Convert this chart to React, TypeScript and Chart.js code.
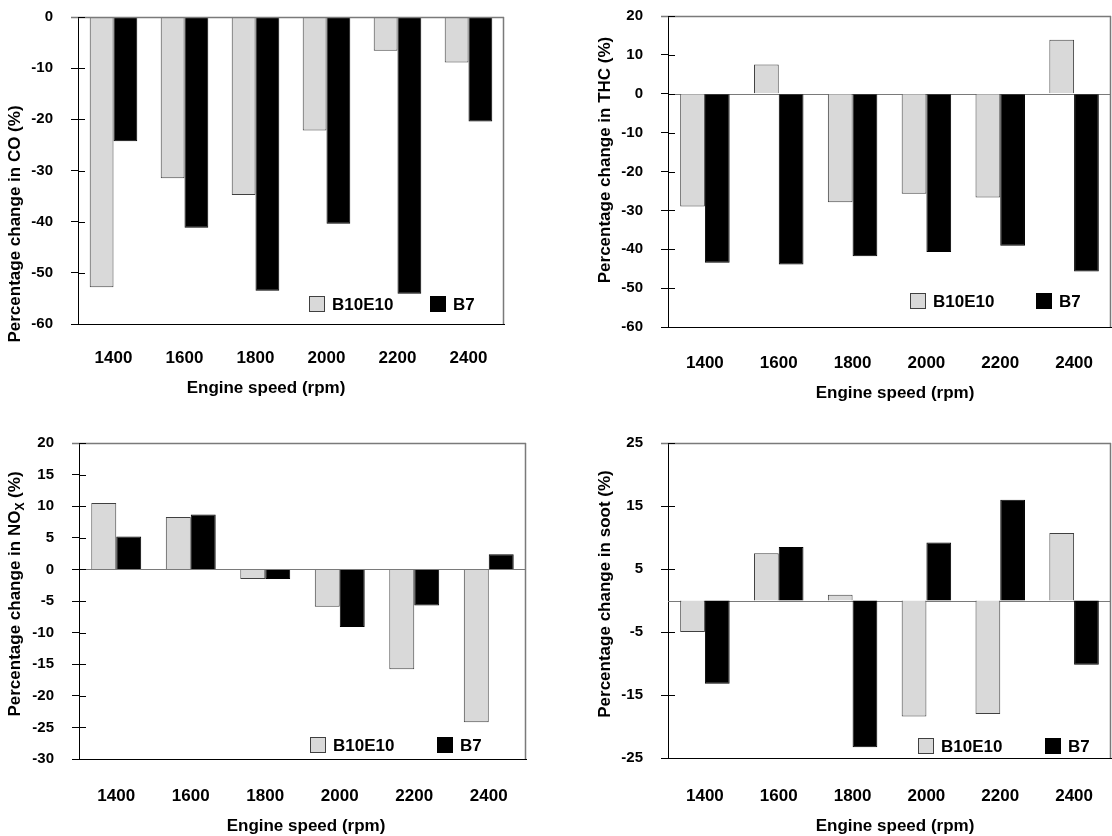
import React, { useEffect, useRef } from "react";
import { Chart, registerables } from "chart.js";
Chart.register(...registerables);

// ---------- data ----------
const categories = ["1400", "1600", "1800", "2000", "2200", "2400"];
const seriesNames = ["B10E10", "B7"];

const coB10E10 = [-52.8, -31.5, -34.8, -22.2, -6.6, -8.9];
const coB7 = [-24.3, -41.2, -53.5, -40.4, -54.1, -20.4];
const coTicks = [0, -10, -20, -30, -40, -50, -60];

const thcB10E10 = [-29.0, 7.5, -27.9, -25.7, -26.7, 13.9];
const thcB7 = [-43.5, -43.9, -41.8, -40.7, -39.1, -45.7];
const thcTicks = [20, 10, 0, -10, -20, -30, -40, -50, -60];

const noxB10E10 = [10.5, 8.3, -1.5, -5.9, -15.8, -24.2];
const noxB7 = [5.2, 8.7, -1.5, -9.1, -5.7, 2.4];
const noxTicks = [20, 15, 10, 5, 0, -5, -10, -15, -20, -25, -30];

const sootB10E10 = [-5.0, 7.5, 0.9, -18.4, -18.0, 10.7];
const sootB7 = [-13.2, 8.5, -23.3, 9.2, 16.0, -10.2];
const sootTicks = [25, 15, 5, -5, -15, -25];

const xTitle = "Engine speed (rpm)";

// ---------- style ----------
const W = 1112;
const H = 836;
const FONT = '"Liberation Sans", Arial, Helvetica, sans-serif';
const LIGHT = "#D9D9D9";
const LIGHT_EDGE = "#404040";
const FRAME = "#7a7a7a";
const Y_AXIS_W = 70;
const X_AXIS_H = 60;

type TitlePart = { text: string; sub?: boolean };
type PanelCfg = {
  b10: number[];
  b7: number[];
  ticks: number[];
  yTitle: TitlePart[];
  plot: { left: number; top: number; right: number; bottom: number };
  yTitlePos: { x: number; y: number };
  xTitlePos: { x: number; y: number };
  xTickPad: number;
  legend: { x1: number; x2: number; dy: number };
};

const panels: PanelCfg[] = [
  {
    b10: coB10E10, b7: coB7, ticks: coTicks,
    yTitle: [{ text: "Percentage change in CO (%)" }],
    plot: { left: 78, top: 17, right: 504, bottom: 324 },
    yTitlePos: { x: 15.5, y: 224 }, xTitlePos: { x: 266, y: 388 },
    xTickPad: 24, legend: { x1: 195, x2: 74, dy: 20 },
  },
  {
    b10: thcB10E10, b7: thcB7, ticks: thcTicks,
    yTitle: [{ text: "Percentage change in THC (%)" }],
    plot: { left: 668, top: 16, right: 1111, bottom: 327 },
    yTitlePos: { x: 605, y: 160 }, xTitlePos: { x: 895, y: 393 },
    xTickPad: 26, legend: { x1: 201, x2: 75, dy: 26 },
  },
  {
    b10: noxB10E10, b7: noxB7, ticks: noxTicks,
    yTitle: [{ text: "Percentage change in NO" }, { text: "X", sub: true }, { text: " (%)" }],
    plot: { left: 79, top: 443, right: 526, bottom: 759 },
    yTitlePos: { x: 15.5, y: 594 }, xTitlePos: { x: 306, y: 826 },
    xTickPad: 27, legend: { x1: 216, x2: 89, dy: 14 },
  },
  {
    b10: sootB10E10, b7: sootB7, ticks: sootTicks,
    yTitle: [{ text: "Percentage change in soot (%)" }],
    plot: { left: 668, top: 443, right: 1111, bottom: 758 },
    yTitlePos: { x: 605, y: 594 }, xTitlePos: { x: 895, y: 826 },
    xTickPad: 28, legend: { x1: 193, x2: 66, dy: 12 },
  },
];

function makeDecor(cfg: PanelCfg) {
  return {
    id: "panelDecor",
    beforeDatasetsDraw(chart: any) {
      const { ctx, chartArea: a, scales } = chart;
      const y = scales.y;
      if (0 > y.min && 0 < y.max) {
        const p = Math.round(y.getPixelForValue(0)) + 0.5;
        ctx.save();
        ctx.strokeStyle = FRAME;
        ctx.lineWidth = 1;
        ctx.beginPath();
        ctx.moveTo(a.left, p);
        ctx.lineTo(a.right, p);
        ctx.stroke();
        ctx.restore();
      }
    },
    afterDraw(chart: any) {
      const { ctx, chartArea: a, scales } = chart;
      const y = scales.y;
      ctx.save();
      // frame top & right
      ctx.strokeStyle = FRAME;
      ctx.lineWidth = 1.5;
      ctx.beginPath();
      ctx.moveTo(a.left - 7, a.top + 0.5);
      ctx.lineTo(a.right, a.top + 0.5);
      ctx.moveTo(a.right - 0.5, a.top);
      ctx.lineTo(a.right - 0.5, a.bottom);
      ctx.stroke();
      // inner tick marks
      ctx.strokeStyle = "#000";
      ctx.lineWidth = 1;
      ctx.beginPath();
      y.ticks.forEach((t: any) => {
        const p = Math.round(y.getPixelForValue(t.value)) + 0.5;
        ctx.moveTo(a.left, p);
        ctx.lineTo(a.left + 7, p);
      });
      ctx.stroke();

      // legend
      const cy = a.bottom - cfg.legend.dy;
      const ds = chart.data.datasets;
      const xs = [a.right - cfg.legend.x1, a.right - cfg.legend.x2];
      ds.forEach((d: any, i: number) => {
        const x = xs[i];
        ctx.fillStyle = d.backgroundColor;
        ctx.fillRect(x, cy - 8, 16, 16);
        ctx.strokeStyle = d.borderColor;
        ctx.lineWidth = 1;
        ctx.strokeRect(x + 0.5, cy - 7.5, 15, 15);
        ctx.fillStyle = "#000";
        ctx.font = `bold 17px ${FONT}`;
        ctx.textAlign = "left";
        ctx.textBaseline = "middle";
        ctx.fillText(d.label, x + 23, cy + 1);
      });

      // x title
      ctx.fillStyle = "#000";
      ctx.font = `bold 17px ${FONT}`;
      ctx.textAlign = "center";
      ctx.textBaseline = "middle";
      ctx.fillText(xTitle, cfg.xTitlePos.x, cfg.xTitlePos.y);

      // y title (rotated, with optional subscript)
      ctx.translate(cfg.yTitlePos.x, cfg.yTitlePos.y);
      ctx.rotate(-Math.PI / 2);
      const fontFor = (p: TitlePart) => `bold ${p.sub ? 12 : 17}px ${FONT}`;
      let total = 0;
      cfg.yTitle.forEach((p) => {
        ctx.font = fontFor(p);
        total += ctx.measureText(p.text).width;
      });
      let cx = -total / 2;
      ctx.textAlign = "left";
      ctx.textBaseline = "middle";
      cfg.yTitle.forEach((p) => {
        ctx.font = fontFor(p);
        ctx.fillText(p.text, cx, p.sub ? 5 : 0);
        cx += ctx.measureText(p.text).width;
      });
      ctx.restore();
    },
  };
}

function Panel({ cfg }: { cfg: PanelCfg }) {
  const ref = useRef<HTMLCanvasElement | null>(null);
  useEffect(() => {
    if (!ref.current) return;
    const ticks = cfg.ticks;
    const chart = new Chart(ref.current, {
      type: "bar",
      data: {
        labels: categories,
        datasets: [
          {
            label: seriesNames[0],
            data: cfg.b10,
            backgroundColor: LIGHT,
            borderColor: LIGHT_EDGE,
            borderWidth: 1,
            categoryPercentage: 0.67,
            barPercentage: 1.0,
          },
          {
            label: seriesNames[1],
            data: cfg.b7,
            backgroundColor: "#000000",
            borderColor: "#000000",
            borderWidth: 1,
            categoryPercentage: 0.67,
            barPercentage: 1.0,
          },
        ],
      },
      options: {
        responsive: false,
        animation: false,
        layout: {
          padding: {
            left: cfg.plot.left - Y_AXIS_W,
            top: cfg.plot.top,
            right: W - cfg.plot.right,
            bottom: H - cfg.plot.bottom - X_AXIS_H,
          },
        },
        plugins: {
          legend: { display: false },
          tooltip: { enabled: false },
          title: { display: false },
        },
        scales: {
          x: {
            type: "category",
            offset: true,
            grid: { display: false, drawTicks: false, tickLength: 0 },
            border: { display: true, color: "#000", width: 1 },
            ticks: {
              color: "#000",
              font: { family: FONT, size: 17, weight: "bold" },
              padding: cfg.xTickPad,
              maxRotation: 0,
              autoSkip: false,
            },
            afterFit: (s: any) => {
              s.height = X_AXIS_H;
              s.paddingLeft = 0;
              s.paddingRight = 0;
            },
          },
          y: {
            type: "linear",
            min: Math.min(...ticks),
            max: Math.max(...ticks),
            afterBuildTicks: (s: any) => {
              s.ticks = ticks.map((v) => ({ value: v }));
            },
            grid: { drawOnChartArea: false, color: "#000", tickLength: 7, lineWidth: 1 },
            border: { display: true, color: "#000", width: 1 },
            ticks: {
              color: "#000",
              font: { family: FONT, size: 15, weight: "bold" },
              padding: 18,
              callback: (v: any) => String(v),
            },
            afterFit: (s: any) => {
              s.width = Y_AXIS_W;
              s.paddingTop = 0;
              s.paddingBottom = 0;
            },
          },
        },
      },
      plugins: [makeDecor(cfg)],
    } as any);
    return () => chart.destroy();
  }, [cfg]);
  return (
    <canvas
      ref={ref}
      width={W}
      height={H}
      style={{ position: "absolute", left: 0, top: 0, width: W, height: H }}
    />
  );
}

export default function App() {
  return (
    <div style={{ position: "absolute", left: 0, top: 0, width: W, height: H, background: "#fff" }}>
      {panels.map((p, i) => (
        <Panel key={i} cfg={p} />
      ))}
    </div>
  );
}
